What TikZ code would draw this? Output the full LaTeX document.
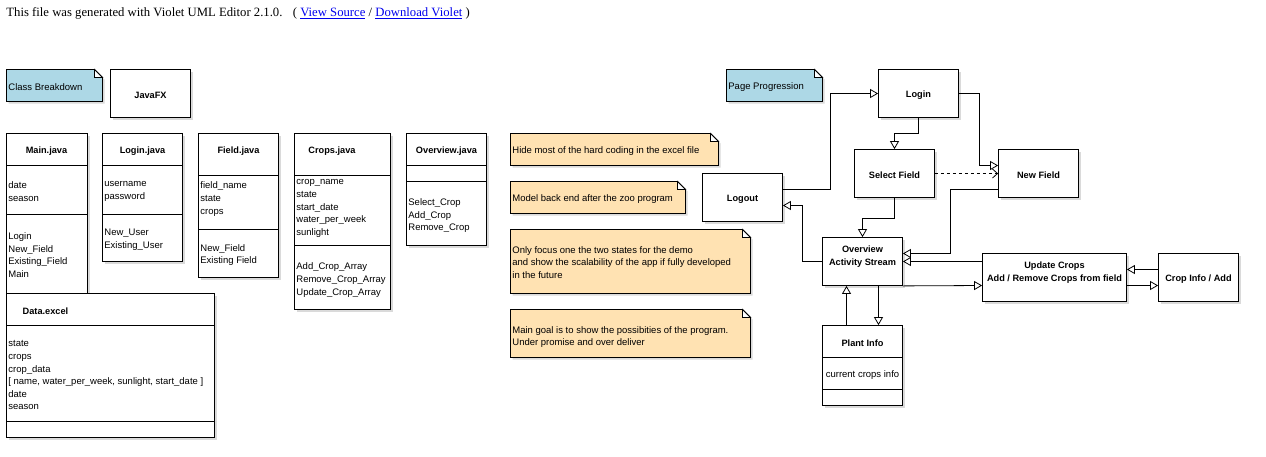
\documentclass[tikz,border=0pt]{standalone}
\usepackage{fontspec}
\setmainfont{Liberation Sans}
\newfontfamily\hdrfont{Liberation Serif}
\usetikzlibrary{arrows.meta,shadows}
\definecolor{notefill}{RGB}{255,226,178}
\definecolor{bluefill}{RGB}{173,216,230}
\definecolor{linkblue}{RGB}{0,0,238}
\definecolor{shadowc}{RGB}{218,218,218}
\newcommand\notebox[6]{%
  \fill[shadowc] (#2+2,#3+2) -- (#4-6,#3+2) -- (#4+2,#3+10) -- (#4+2,#5+2) -- (#2+2,#5+2) -- cycle;
  \filldraw[fill=#6] (#2,#3) -- (#4-8,#3) -- (#4,#3+8) -- (#4,#5) -- (#2,#5) -- cycle;
  \filldraw[fill=white] (#4-8,#3) -- (#4-8,#3+8) -- (#4,#3+8) -- cycle;
  \coordinate (#1) at ({(#2+#4)/2},{(#3+#5)/2});
}
\newcommand\bx[7][]{%
  \pgfmathsetmacro\bxcx{(#3+#5)/2}%
  \pgfmathsetmacro\bxcy{(#4+#6)/2}%
  \pgfmathsetmacro\bxw{#5-#3}%
  \pgfmathsetmacro\bxh{#6-#4}%
  \node[box, minimum width=\bxw pt, minimum height=\bxh pt, #1] (#2) at (\bxcx,\bxcy) {#7};
}
\newcommand\classbox[7]{%
  \bx{#1}{#2}{#3}{#4}{#5}{}
  \draw (#2,#6) -- (#4,#6);
  \draw (#2,#7) -- (#4,#7);
}
\begin{document}
\begin{tikzpicture}[x=1pt,y=-1pt,line width=0.8pt,
  box/.style={draw, fill=white, inner sep=0pt, general shadow={fill=shadowc, shadow xshift=2pt, shadow yshift=-2pt}},
  txt/.style={font=\fontsize{9.5}{12.6}\selectfont, inner sep=0pt, align=left, anchor=west, yshift=-1.5pt},
  ttl/.style={font=\bfseries\fontsize{9.2}{12.6}\selectfont, inner sep=0pt, align=center},
  ttlb/.style={ttl, text height=9.8pt},
  ttlf/.style={ttl, yshift=-1.5pt},
  hdr/.style={font=\hdrfont\fontsize{12.7}{15}\selectfont, inner sep=0pt, anchor=base west},
  arr/.style={-{Triangle[open,length=8pt,width=9pt]}},
  darr/.style={dash pattern=on 3pt off 3pt, -{Straight Barb[length=5pt,width=9pt]}},
]
\useasboundingbox[fill=white] (0,0) rectangle (1266,456);

% header
\node[hdr] (gen) at (6,16.5) {This file was generated with Violet UML Editor 2.1.0.};
\node[hdr] (links) at (292.5,16.5) {( \textcolor{linkblue}{\underline{View Source}} / \textcolor{linkblue}{\underline{Download Violet}} )};

% ---------------- left: class breakdown
\notebox{cbnote}{6.5}{69.5}{102.5}{101.5}{bluefill}
\node[txt] (cbtext) at (8,86) {Class Breakdown};
\bx[ttlb]{javafx}{110.5}{69.5}{190.5}{117.5}{JavaFX}

\classbox{mainj}{6.5}{133.5}{87.5}{293.5}{165.5}{214.5}
\node[ttlf] (mainjt) at (46.5,150) {Main.java};
\node[txt] (mainja) at (8,190) {date\\season};
\node[txt] (mainjm) at (8,253.5) {Login\\New\_Field\\Existing\_Field\\Main};

\classbox{loginj}{102.5}{133.5}{182.5}{261.5}{165.5}{214.5}
\node[ttlf] (loginjt) at (142.5,150) {Login.java};
\node[txt] (loginja) at (104,190) {username\\password};
\node[txt] (loginjm) at (104,238) {New\_User\\Existing\_User};

\classbox{fieldj}{198.5}{133.5}{278.5}{277.5}{175.5}{229.5}
\node[ttlf] (fieldjt) at (238.5,150) {Field.java};
\node[txt] (fieldja) at (200,197.5) {field\_name\\state\\crops};
\node[txt] (fieldjm) at (200,253.5) {New\_Field\\Existing Field};

\classbox{cropsj}{294.5}{133.5}{390.5}{309.5}{175.5}{245.5}
\node[ttlf] (cropsjt) at (332,150) {Crops.java};
\node[txt] (cropsja) at (296,207) {crop\_name\\state\\start\_date\\water\_per\_week\\sunlight};
\node[txt] (cropsjm) at (296,278.5) {Add\_Crop\_Array\\Remove\_Crop\_Array\\Update\_Crop\_Array};

\classbox{overj}{406.5}{133.5}{486.5}{245.5}{165.5}{181.5}
\node[ttlf] (overjt) at (446.5,150) {Overview.java};
\node[txt] (overjm) at (408,214.2) {Select\_Crop\\Add\_Crop\\Remove\_Crop};

\classbox{dataex}{6.5}{293.5}{214.5}{437.5}{325.5}{421.5}
\node[ttlf] (dataext) at (45.5,310) {Data.excel};
\node[txt] (dataexa) at (8,373.8) {state\\crops\\crop\_data\\{[} name, water\_per\_week, sunlight, start\_date {]}\\date\\season};

% ---------------- notes
\notebox{n1}{510.5}{133.5}{718.5}{165.5}{notefill}
\node[txt] (n1t) at (512,150) {Hide most of the hard coding in the excel file};
\notebox{n2}{510.5}{181.5}{685.5}{213.5}{notefill}
\node[txt] (n2t) at (512,198) {Model back end after the zoo program};
\notebox{n3}{510.5}{229.5}{750.5}{293.5}{notefill}
\node[txt, font=\fontsize{9.5}{12.3}\selectfont] (n3t) at (512,261) {Only focus one the two states for the demo\\and show the scalability of the app if fully developed\\in the future};
\notebox{n4}{510.5}{309.5}{750.5}{357.5}{notefill}
\node[txt, font=\fontsize{9.5}{12.3}\selectfont] (n4t) at (512,335.5) {Main goal is to show the possibities of the program.\\Under promise and over deliver};

% ---------------- right: page progression
\notebox{ppnote}{726.5}{69.5}{822.5}{101.5}{bluefill}
\node[txt] (pptext) at (728,86) {Page Progression};

\bx[ttlb]{login}{878.5}{69.5}{958.5}{117.5}{Login}
\bx[ttlb]{select}{854.5}{149.5}{934.5}{197.5}{Select Field}
\bx[ttlb]{newfield}{998.5}{149.5}{1078.5}{197.5}{New Field}
\bx[ttlb]{logout}{702.5}{173.5}{782.5}{221.5}{Logout}
\bx[ttlb]{overview}{822.5}{237.5}{902.5}{285.5}{Overview\\Activity Stream}
\bx[ttlb]{update}{982.5}{253.5}{1126.5}{301.5}{Update Crops\\Add / Remove Crops from field}
\bx[ttlb]{cropinfo}{1158.5}{253.5}{1238.5}{301.5}{Crop Info / Add}
\classbox{plant}{822.5}{325.5}{902.5}{405.5}{357.5}{389.5}
\node[ttlf] (plantt) at (862.5,342) {Plant Info};
\node[txt, anchor=center] (planta) at (862.5,374) {current crops info};

% connectors
\draw[arr] ([yshift=8pt]logout.east) -- (830.5,189.5) |- (login.west);
\draw[arr] (login.south) -- ++(0,15.5) -| (select.north);
\draw[arr] (login.east) -- ++(20,0) |- ([yshift=8pt]newfield.west);
\draw[darr] (select.east) -- (newfield.west);
\draw[arr] (select.south) -- ++(0,20) -| (overview.north);
\draw[arr] ([yshift=-16pt]newfield.west) -- (950.5,189.5) |- ([yshift=8pt]overview.east);
\draw[arr] ([yshift=16pt]update.west) -- (overview.east);
\draw[arr] (overview.south east) -- ([yshift=-8pt]update.west);
\draw[arr] (overview.west) -- (802.5,261.5) |- ([yshift=-8pt]logout.east);
\draw[arr] ([yshift=-8pt]update.east) -- ([yshift=-8pt]cropinfo.west);
\draw[arr] ([yshift=8pt]cropinfo.west) -- ([yshift=8pt]update.east);
\draw[arr] ([xshift=-16pt]plant.north) -- ([xshift=-16pt]overview.south);
\draw[arr] ([xshift=16pt]overview.south) -- ([xshift=16pt]plant.north);
\end{tikzpicture}
\end{document}
